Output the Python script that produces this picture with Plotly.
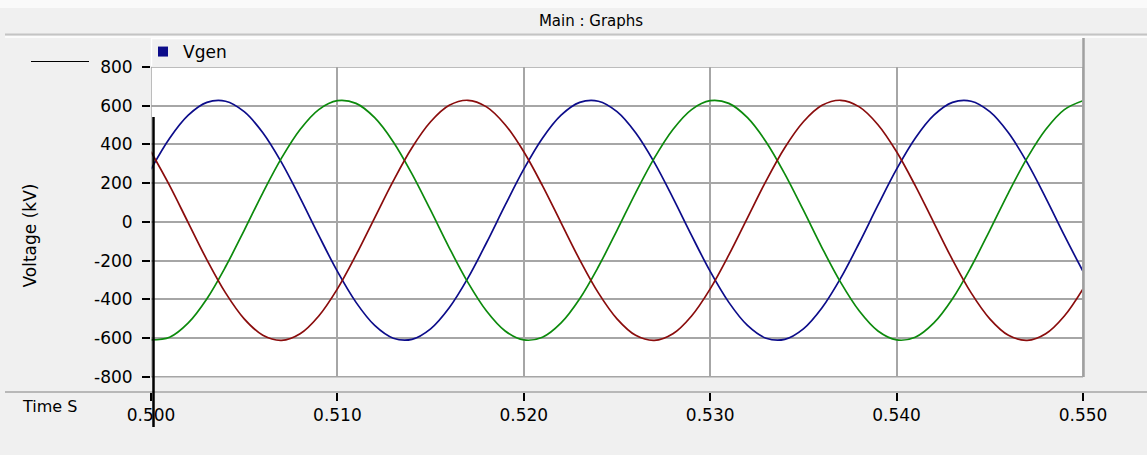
import plotly.graph_objects as go

# ---------------- data ----------------
time_s = [0.500, 0.501, 0.502, 0.503, 0.504, 0.505, 0.506, 0.507, 0.508, 0.509,
          0.510, 0.511, 0.512, 0.513, 0.514, 0.515, 0.516, 0.517, 0.518, 0.519,
          0.520, 0.521, 0.522, 0.523, 0.524, 0.525, 0.526, 0.527, 0.528, 0.529,
          0.530, 0.531, 0.532, 0.533, 0.534, 0.535, 0.536, 0.537, 0.538, 0.539,
          0.540, 0.541, 0.542, 0.543, 0.544, 0.545, 0.546, 0.547, 0.548, 0.549,
          0.550]

vgen_blue = [272, 432, 551, 617, 623, 569, 460, 307, 124, -70,
             -256, -416, -535, -601, -607, -553, -444, -291, -108, 86,
             272, 432, 551, 617, 623, 569, 460, 307, 124, -70,
             -256, -416, -535, -601, -607, -553, -444, -291, -108, 86,
             272, 432, 551, 617, 623, 569, 460, 307, 124, -70,
             -256]

vgen_green = [-610, -596, -522, -397, -232, -44, 150, 329, 477, 580,
              626, 612, 538, 413, 248, 60, -134, -313, -461, -564,
              -610, -596, -522, -397, -232, -44, 150, 329, 477, 580,
              626, 612, 538, 413, 248, 60, -134, -313, -461, -564,
              -610, -596, -522, -397, -232, -44, 150, 329, 477, 580,
              626]

vgen_red = [362, 187, -5, -196, -367, -501, -586, -612, -578, -486,
            -346, -171, 21, 212, 383, 517, 602, 628, 594, 502,
            362, 187, -5, -196, -367, -501, -586, -612, -578, -486,
            -346, -171, 21, 212, 383, 517, 602, 628, 594, 502,
            362, 187, -5, -196, -367, -501, -586, -612, -578, -486,
            -346]

y_ticks = [-800, -600, -400, -200, 0, 200, 400, 600, 800]
y_tick_labels = ["-800", "-600", "-400", "-200", "0", "200", "400", "600", "800"]
x_ticks = [0.50, 0.51, 0.52, 0.53, 0.54, 0.55]
x_tick_labels = ["0.500", "0.510", "0.520", "0.530", "0.540", "0.550"]

series_names = ["Vgen", "Vgen b", "Vgen c"]
series_colors = ["#0c0c8a", "#0c8a0c", "#8a0c0c"]

# ---------------- layout geometry ----------------
W, H = 1147, 455
L, R, T, B = 151, 64, 67, 63
PW, PH = W - L - R, H - T - B
FONT = "DejaVu Sans"
BG = "#f0f0f0"
Y_MIN, Y_MAX = -879, 800


def px_x(x):
    return (x - L) / PW


def px_y(y):
    return (H - B - y) / PH


fig = go.Figure()
for vals, name, col in zip([vgen_blue, vgen_green, vgen_red], series_names, series_colors):
    fig.add_trace(go.Scatter(x=time_s, y=vals, mode="lines", name=name,
                             line=dict(color=col, width=1.7, shape="spline", smoothing=1.0),
                             showlegend=False, hoverinfo="x+y"))

# legend-only entry (filled rectangle symbol as in the reference)
fig.add_trace(go.Scatter(x=[None], y=[None], mode="markers", name="Vgen",
                         marker=dict(symbol="square", size=10, color=series_colors[0]),
                         showlegend=True))

shapes = [
    # light strip at the very top
    dict(type="rect", xref="paper", yref="paper", x0=px_x(0), x1=px_x(W), y0=px_y(8), y1=px_y(0),
         fillcolor="#fafafa", line=dict(width=0), layer="below"),
    # title bar separator lines
    dict(type="line", xref="paper", yref="paper", x0=px_x(5), x1=px_x(W), y0=px_y(34.5), y1=px_y(34.5),
         line=dict(color="#c4c4c4", width=2)),
    dict(type="line", xref="paper", yref="paper", x0=px_x(5), x1=px_x(W), y0=px_y(37), y1=px_y(37),
         line=dict(color="#ffffff", width=1.5)),
    # legend strip
    dict(type="rect", xref="paper", yref="paper", x0=px_x(151), x1=px_x(1083), y0=px_y(66), y1=px_y(38),
         fillcolor=BG, line=dict(width=0)),
    dict(type="line", xref="paper", yref="paper", x0=px_x(151), x1=px_x(1082), y0=px_y(38.5), y1=px_y(38.5),
         line=dict(color="#ffffff", width=1.5)),
    dict(type="line", xref="paper", yref="paper", x0=px_x(151.5), x1=px_x(151.5), y0=px_y(66), y1=px_y(38),
         line=dict(color="#ffffff", width=1.5)),
    # band under the white plot area (hides the grid there)
    dict(type="rect", xref="x", yref="y", x0=x_ticks[0], x1=x_ticks[-1], y0=Y_MIN, y1=y_ticks[0],
         fillcolor=BG, line=dict(width=0), layer="above"),
    # frame of the white plot area
    dict(type="rect", xref="x", yref="y", x0=x_ticks[0], x1=x_ticks[-1], y0=y_ticks[0], y1=y_ticks[-1],
         line=dict(color="#a6a6a6", width=1.5), layer="above"),
    # darker right border reaching up through the legend strip
    dict(type="line", xref="paper", yref="paper", x0=px_x(1083.5), x1=px_x(1083.5), y0=px_y(377), y1=px_y(38),
         line=dict(color="#a0a0a0", width=2.5)),
    # long gray rule above the time axis labels
    dict(type="line", xref="paper", yref="paper", x0=px_x(5), x1=px_x(W), y0=px_y(392), y1=px_y(392),
         line=dict(color="#b8b8b8", width=2)),
    # short black line at the top-left
    dict(type="line", xref="paper", yref="paper", x0=px_x(31), x1=px_x(89), y0=px_y(61.5), y1=px_y(61.5),
         line=dict(color="#000000", width=1.2)),
    # black cursor line
    dict(type="line", xref="paper", yref="paper", x0=px_x(153.5), x1=px_x(153.5), y0=px_y(427), y1=px_y(117),
         line=dict(color="#000000", width=2.5)),
]

annotations = [
    dict(text="Voltage (kV)", xref="paper", yref="paper", x=px_x(29.5), y=px_y(236),
         xanchor="center", yanchor="middle", textangle=-90, showarrow=False,
         font=dict(family=FONT, size=17, color="#000000")),
    dict(text="Time S", xref="paper", yref="paper", x=px_x(20), y=px_y(406),
         xanchor="left", yanchor="middle", showarrow=False,
         font=dict(family=FONT, size=16, color="#000000")),
]

fig.update_layout(
    width=W, height=H, autosize=False,
    margin=dict(l=L, r=R, t=T, b=B, pad=0),
    paper_bgcolor=BG, plot_bgcolor="#ffffff",
    font=dict(family=FONT, size=16, color="#000000"),
    title=dict(text="Main : Graphs", x=591 / W, xref="container", xanchor="center",
               y=1 - 21 / H, yref="container", yanchor="middle",
               font=dict(family=FONT, size=15, color="#000000")),
    showlegend=True,
    legend=dict(x=px_x(143), y=px_y(52), xanchor="left", yanchor="middle",
                bgcolor="rgba(0,0,0,0)", borderwidth=0,
                font=dict(family=FONT, size=17, color="#000000")),
    shapes=shapes,
    annotations=annotations,
    hovermode="closest",
)

fig.update_xaxes(range=[x_ticks[0], x_ticks[-1]], tickmode="array", tickvals=x_ticks, ticktext=x_tick_labels,
                 showgrid=True, gridcolor="#a6a6a6", gridwidth=1.5, zeroline=False, showline=False,
                 ticks="outside", ticklen=8, tickwidth=2, tickcolor="#000000",
                 tickfont=dict(family=FONT, size=17, color="#000000"))
fig.update_yaxes(range=[Y_MIN, Y_MAX], tickmode="array", tickvals=y_ticks, ticktext=y_tick_labels,
                 showgrid=True, gridcolor="#a6a6a6", gridwidth=1.5, zeroline=False, showline=False,
                 ticks="outside", ticklen=8, tickwidth=2, tickcolor="#000000",
                 ticklabelstandoff=6,
                 tickfont=dict(family=FONT, size=17, color="#000000"))

fig.write_html("out.html",
               config={"displayModeBar": False},
               post_script="document.body.style.margin='0';document.body.style.padding='0';"
                           "document.body.style.background='" + BG + "';")
